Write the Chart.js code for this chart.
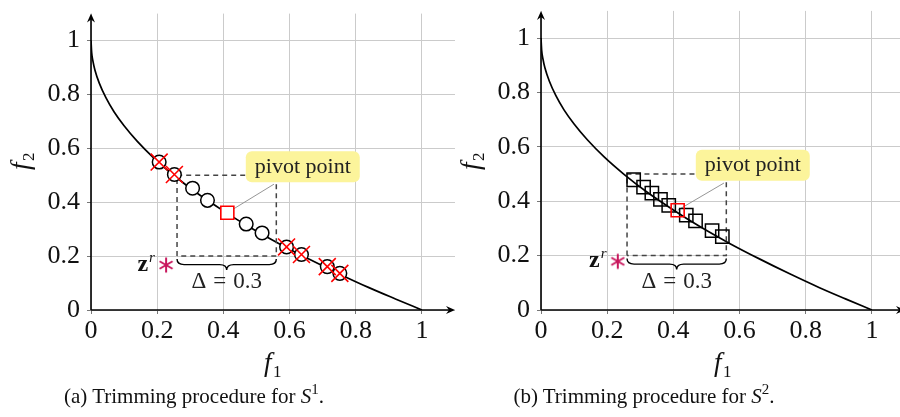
<!DOCTYPE html>
<html><head><meta charset="utf-8">
<script src="https://cdn.jsdelivr.net/npm/chart.js@4.4.1/dist/chart.umd.min.js"></script>
<style>
html,body{margin:0;padding:0;background:#fff;overflow:hidden;width:900px;height:417px}
#wrap{position:relative;width:900px;height:417px;overflow:hidden}
canvas{position:absolute;top:0}
.cap{position:absolute;font-family:"Liberation Serif",serif;font-size:21px;line-height:22px;color:#111;white-space:nowrap;transform:translateX(-50%)}
.cap i{font-style:italic}
.cap sup{font-size:15px;line-height:0;vertical-align:0;position:relative;top:-9px}
</style></head><body>
<div id="wrap">
<canvas id="ca" width="470" height="417" style="left:0"></canvas>
<canvas id="cb" width="470" height="417" style="left:450px"></canvas>
<div class="cap" style="left:194px;top:385px">(a) Trimming procedure for <i>S</i><sup>1</sup>.</div>
<div class="cap" style="left:644px;top:385px">(b) Trimming procedure for <i>S</i><sup>2</sup>.</div>
</div>
<script>
// ---- data ----
const tickValues = [0, 0.2, 0.4, 0.6, 0.8, 1];
const tickLabels = ['0', '0.2', '0.4', '0.6', '0.8', '1'];

const frontF1 = [0, 0.002, 0.006, 0.012, 0.025, 0.045, 0.07, 0.1, 0.14, 0.19, 0.25, 0.32, 0.4, 0.48, 0.57, 0.66, 0.75, 0.84, 0.92, 1];
const frontF2 = [1, 0.955, 0.923, 0.89, 0.842, 0.788, 0.735, 0.684, 0.626, 0.564, 0.5, 0.434, 0.368, 0.307, 0.245, 0.188, 0.134, 0.083, 0.041, 0];

// panel (a)
const setA_f1 = [0.206, 0.252, 0.307, 0.352, 0.469, 0.517, 0.591, 0.636, 0.714, 0.752];
const setA_f2 = [0.549, 0.503, 0.452, 0.407, 0.319, 0.286, 0.234, 0.206, 0.161, 0.136];
const trimmedA_f1 = [0.206, 0.252, 0.591, 0.636, 0.714, 0.752];
const trimmedA_f2 = [0.549, 0.503, 0.234, 0.206, 0.161, 0.136];
const pivotA = [0.412, 0.361];
const refA = [0.227, 0.167];

// panel (b)
const setB_f1 = [0.280, 0.310, 0.335, 0.361, 0.386, 0.439, 0.467, 0.517, 0.548];
const setB_f2 = [0.479, 0.452, 0.430, 0.407, 0.385, 0.349, 0.328, 0.292, 0.270];
const pivotB = [0.413, 0.367];
const refB = [0.232, 0.179];

// trimming box (shared)
const boxF1 = [0.26, 0.26, 0.56, 0.56, 0.26];
const boxF2 = [0.2, 0.5, 0.5, 0.2, 0.2];
const deltaText = ['Δ', '=', '0.3'];
const pivotText = 'pivot point';
const pivotLabelAt = [0.64, 0.532];
const pivotLineEnd = [0.553, 0.467];

// ---- helpers ----
const zip = (xs, ys) => xs.map((x, i) => ({x, y: ys[i]}));
const SERIF = '"Liberation Serif", "DejaVu Serif", serif';

function asteriskImg() {
  const c = document.createElement('canvas');
  c.width = c.height = 18;
  const g = c.getContext('2d');
  g.strokeStyle = '#c8175d'; g.lineWidth = 2;
  for (let k = 0; k < 3; k++) {
    const a = Math.PI / 2 + k * Math.PI / 3;
    g.beginPath();
    g.moveTo(9 - 7.5 * Math.cos(a), 9 - 7.5 * Math.sin(a));
    g.lineTo(9 + 7.5 * Math.cos(a), 9 + 7.5 * Math.sin(a));
    g.stroke();
  }
  return c;
}
const STAR = asteriskImg();

function curveDs() {
  return {data: zip(frontF1, frontF2), showLine: true, borderColor: '#000', borderWidth: 1.7,
    pointRadius: 0, cubicInterpolationMode: 'monotone', order: 5};
}
function boxDs() {
  return {data: zip(boxF1, boxF2), showLine: true, borderColor: '#444', borderWidth: 1.5,
    borderDash: [5, 4], pointRadius: 0, order: 4};
}
function starDs(p) {
  return {data: [{x: p[0], y: p[1]}], pointStyle: STAR, pointRadius: 9, order: 0};
}

function annotPlugin(cfg) {
  return {
    id: 'annot',
    beforeDatasetsDraw(chart) {
      const ctx = chart.ctx, X = chart.scales.x, Y = chart.scales.y;
      ctx.save();
      ctx.strokeStyle = '#8a8a8a'; ctx.lineWidth = 0.9;
      ctx.beginPath();
      ctx.moveTo(X.getPixelForValue(cfg.pivot[0]), Y.getPixelForValue(cfg.pivot[1]));
      ctx.lineTo(X.getPixelForValue(pivotLineEnd[0]), Y.getPixelForValue(pivotLineEnd[1]));
      ctx.stroke();
      ctx.restore();
    },
    afterDatasetsDraw(chart) {
      const ctx = chart.ctx, X = chart.scales.x, Y = chart.scales.y;
      const px = v => X.getPixelForValue(v), py = v => Y.getPixelForValue(v);
      ctx.save();
      // pivot label
      ctx.font = '22px ' + SERIF;
      const tw = ctx.measureText(pivotText).width;
      const cx = px(pivotLabelAt[0]), cy = py(pivotLabelAt[1]);
      const w = tw + 18, h = 31;
      ctx.fillStyle = '#fcf49b';
      ctx.beginPath();
      ctx.roundRect(cx - w / 2, cy - h / 2, w, h, 6);
      ctx.fill();
      ctx.fillStyle = '#222'; ctx.textAlign = 'center'; ctx.textBaseline = 'alphabetic';
      ctx.fillText(pivotText, cx, cy + 6);
      // brace under the box
      const x1 = px(boxF1[0]), x2 = px(boxF1[2]), yb = py(boxF2[0]) + 3, d = 11;
      const xm = (x1 + x2) / 2, q = 7;
      ctx.strokeStyle = '#000'; ctx.lineWidth = 1.4;
      ctx.beginPath();
      ctx.moveTo(x1, yb);
      ctx.quadraticCurveTo(x1, yb + d / 2, x1 + q, yb + d / 2);
      ctx.lineTo(xm - q, yb + d / 2);
      ctx.quadraticCurveTo(xm, yb + d / 2, xm, yb + d);
      ctx.quadraticCurveTo(xm, yb + d / 2, xm + q, yb + d / 2);
      ctx.lineTo(x2 - q, yb + d / 2);
      ctx.quadraticCurveTo(x2, yb + d / 2, x2, yb);
      ctx.stroke();
      // delta text
      ctx.font = '23px ' + SERIF;
      ctx.fillStyle = '#222';
      const gap = 7;
      const ws = deltaText.map(t => ctx.measureText(t).width);
      const total = ws.reduce((s, v) => s + v, 0) + gap * 2;
      let xx = xm - total / 2;
      ctx.textAlign = 'left';
      deltaText.forEach((t, i) => { ctx.fillText(t, xx, yb + 29); xx += ws[i] + gap; });
      // z^r label
      const sx = px(cfg.ref[0]), sy = py(cfg.ref[1]);
      ctx.fillStyle = '#111';
      ctx.font = 'bold 24px ' + SERIF;
      ctx.textAlign = 'right';
      ctx.fillText('z', sx - 18, sy + 6);
      ctx.font = 'italic 15px ' + SERIF;
      ctx.textAlign = 'left';
      ctx.fillText('r', sx - 17, sy - 3);
      ctx.restore();
    },
    afterDraw(chart) {
      const ctx = chart.ctx, X = chart.scales.x, Y = chart.scales.y;
      const x0 = X.getPixelForValue(0), y0 = Y.getPixelForValue(0);
      const xr = X.right, yt = Y.top;
      ctx.save();
      ctx.strokeStyle = '#000'; ctx.fillStyle = '#000'; ctx.lineWidth = 1.6;
      ctx.beginPath();
      ctx.moveTo(x0, y0); ctx.lineTo(xr - 3, y0);
      ctx.moveTo(x0, y0); ctx.lineTo(x0, yt + 3);
      ctx.stroke();
      // arrowheads
      ctx.beginPath();
      ctx.moveTo(xr, y0); ctx.lineTo(xr - 9, y0 - 4); ctx.lineTo(xr - 6, y0); ctx.lineTo(xr - 9, y0 + 4); ctx.closePath();
      ctx.moveTo(x0, yt); ctx.lineTo(x0 - 4, yt + 9); ctx.lineTo(x0, yt + 6); ctx.lineTo(x0 + 4, yt + 9); ctx.closePath();
      ctx.fill();
      // axis titles
      ctx.fillStyle = '#111';
      ctx.font = 'italic 27px ' + SERIF;
      ctx.textAlign = 'left'; ctx.textBaseline = 'alphabetic';
      ctx.fillText('f', 264, 371);
      ctx.font = '17px ' + SERIF;
      ctx.fillText('1', 273, 377);
      ctx.translate(29, 170);
      ctx.rotate(-Math.PI / 2);
      ctx.font = 'italic 27px ' + SERIF;
      ctx.fillText('f', 0, 0);
      ctx.font = '17px ' + SERIF;
      ctx.fillText('2', 9, 5);
      ctx.restore();
    }
  };
}

function axisOpts(isX) {
  return {
    type: 'linear', min: 0, max: 1.1,
    afterBuildTicks: s => { s.ticks = tickValues.map(v => ({value: v})); },
    afterFit: s => {
      if (isX) s.height = 107; else s.width = 91;
      s.paddingTop = 0; s.paddingBottom = 0; s.paddingLeft = 0; s.paddingRight = 0;
    },
    border: {display: false},
    grid: {color: '#cbcbcb', lineWidth: 1, tickColor: '#777', tickLength: 4},
    ticks: {
      font: {family: 'Liberation Serif', size: 26}, color: '#111',
      padding: isX ? 2 : 7, maxRotation: 0, autoSkip: false,
      callback: v => tickLabels[tickValues.indexOf(v)]
    }
  };
}

function makeChart(id, datasets, cfg) {
  return new Chart(document.getElementById(id), {
    type: 'scatter',
    data: {datasets},
    options: {
      responsive: false, animation: false, devicePixelRatio: 1,
      layout: {padding: {top: 7.5, right: 15, left: 0, bottom: 0}},
      plugins: {legend: {display: false}, tooltip: {enabled: false}},
      scales: {x: axisOpts(true), y: axisOpts(false)}
    },
    plugins: [annotPlugin(cfg)]
  });
}

makeChart('ca', [
  curveDs(), boxDs(),
  {data: zip(setA_f1, setA_f2), pointStyle: 'circle', pointRadius: 6.8, pointBackgroundColor: '#fff',
   pointBorderColor: '#000', pointBorderWidth: 1.5, order: 3},
  {data: zip(trimmedA_f1, trimmedA_f2), pointStyle: 'crossRot', pointRadius: 12,
   pointBorderColor: '#ff0000', pointBorderWidth: 1.6, order: 2},
  {data: [{x: pivotA[0], y: pivotA[1]}], pointStyle: 'rect', pointRadius: 9.2, pointBackgroundColor: '#fff',
   pointBorderColor: '#ff0000', pointBorderWidth: 1.6, order: 1},
  starDs(refA)
], {pivot: pivotA, ref: refA});

makeChart('cb', [
  curveDs(), boxDs(),
  {data: zip(setB_f1, setB_f2), pointStyle: 'rect', pointRadius: 9.4, pointBackgroundColor: 'rgba(0,0,0,0)',
   pointBorderColor: '#000', pointBorderWidth: 1.5, order: 3},
  {data: [{x: pivotB[0], y: pivotB[1]}], pointStyle: 'rect', pointRadius: 9.2, pointBackgroundColor: 'rgba(0,0,0,0)',
   pointBorderColor: '#ff0000', pointBorderWidth: 1.6, order: 1},
  starDs(refB)
], {pivot: pivotB, ref: refB});
</script>
</body></html>
